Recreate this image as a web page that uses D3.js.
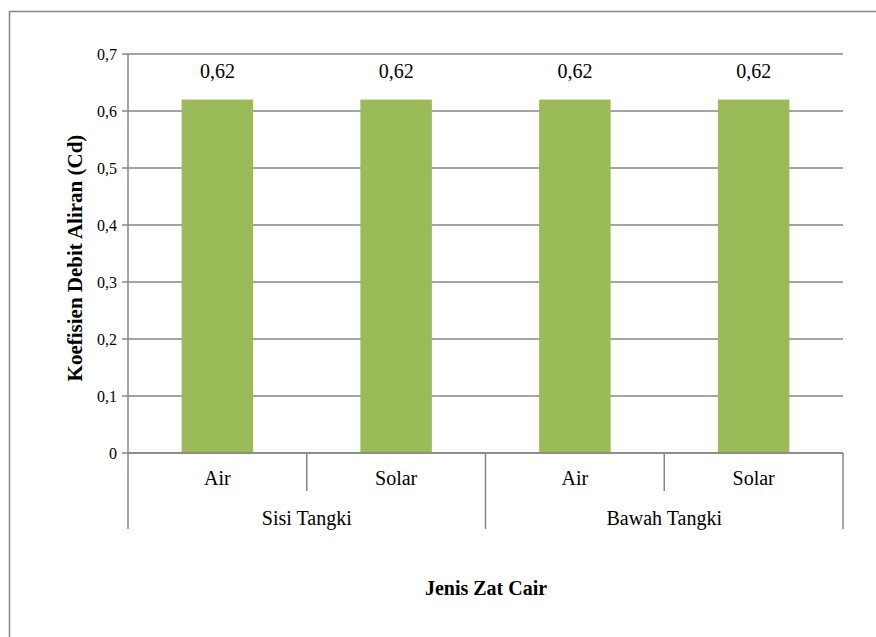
<!DOCTYPE html>
<html><head><meta charset="utf-8">
<script src="https://cdn.jsdelivr.net/npm/d3@7"></script>
<style>body{margin:0;background:#fff}svg{display:block}</style>
</head><body><svg width="876" height="637"></svg>
<script>
const categories = ["Air","Solar","Air","Solar"];
const groups = ["Sisi Tangki","Bawah Tangki"];
const values = [0.62,0.62,0.62,0.62];
const yTicks = [0,0.1,0.2,0.3,0.4,0.5,0.6,0.7];
const fmt = d => d === 0 ? "0" : d3.format(".1f")(d).replace(".",",");
const fmtV = d => String(d).replace(".",",");
const FF = "Times New Roman, Tinos, Liberation Serif, DejaVu Serif, serif";

const svg = d3.select("svg");
const gray = "#868686";
svg.append("rect").attr("x",9.5).attr("y",11.5).attr("width",900).attr("height",700)
  .attr("fill","none").attr("stroke",gray).attr("stroke-width",1.5);

const L=128, R=843, T=54, B=453;
const x = d3.scaleBand().domain(d3.range(categories.length)).range([L,R]).paddingInner(0).paddingOuter(0);
const y = d3.scaleLinear().domain([0,0.7]).range([B,T]);

svg.append("g").selectAll("line").data(yTicks).join("line")
  .attr("x1",L-6).attr("x2",R).attr("y1",d=>y(d)).attr("y2",d=>y(d))
  .attr("stroke",gray).attr("stroke-width",1.3);
svg.append("g").selectAll("text").data(yTicks).join("text")
  .attr("font-family",FF)
  .attr("x",L-11).attr("y",d=>y(d)).attr("dy","0.35em").attr("text-anchor","end")
  .attr("font-size",16).text(fmt);

const bw = x.bandwidth()*0.4;
svg.append("g").selectAll("rect").data(values).join("rect")
  .attr("x",(d,i)=>x(i)+x.bandwidth()/2-bw/2).attr("width",bw)
  .attr("y",d=>y(d)).attr("height",d=>y(0)-y(d)).attr("fill","#9BBB59");
svg.append("g").selectAll("text").data(values).join("text")
  .attr("font-family",FF)
  .attr("x",(d,i)=>x(i)+x.bandwidth()/2).attr("y",d=>y(d)-22)
  .attr("text-anchor","middle").attr("font-size",20).text(fmtV);

svg.append("line").attr("x1",L).attr("x2",L).attr("y1",T).attr("y2",529).attr("stroke",gray).attr("stroke-width",1.5);
svg.append("line").attr("x1",L).attr("x2",R).attr("y1",B).attr("y2",B).attr("stroke",gray).attr("stroke-width",1.5);
d3.range(1,categories.length).forEach(i=>{
  const xx = x(i);
  const isGroup = i % 2 === 0;
  svg.append("line").attr("x1",xx).attr("x2",xx).attr("y1",B).attr("y2",isGroup?529:491).attr("stroke",gray).attr("stroke-width",1.5);
});
svg.append("line").attr("x1",R).attr("x2",R).attr("y1",B).attr("y2",529).attr("stroke",gray).attr("stroke-width",1.5);

svg.append("g").selectAll("text").data(categories).join("text")
  .attr("font-family",FF)
  .attr("x",(d,i)=>x(i)+x.bandwidth()/2).attr("y",478).attr("dy","0.35em")
  .attr("text-anchor","middle").attr("font-size",20).text(d=>d);
svg.append("g").selectAll("text").data(groups).join("text")
  .attr("font-family",FF)
  .attr("x",(d,i)=>(x(i*2)+x(i*2+1)+x.bandwidth())/2).attr("y",518).attr("dy","0.35em")
  .attr("text-anchor","middle").attr("font-size",20).text(d=>d);

svg.append("text").attr("font-family",FF).attr("x",486).attr("y",588).attr("dy","0.35em").attr("text-anchor","middle")
  .attr("font-size",20).attr("font-weight","bold").text("Jenis Zat Cair");
svg.append("text").attr("font-family",FF).attr("transform","translate(75,258) rotate(-90)").attr("dy","0.35em")
  .attr("text-anchor","middle").attr("font-size",21).attr("font-weight","bold").text("Koefisien Debit Aliran (Cd)");
</script></body></html>
